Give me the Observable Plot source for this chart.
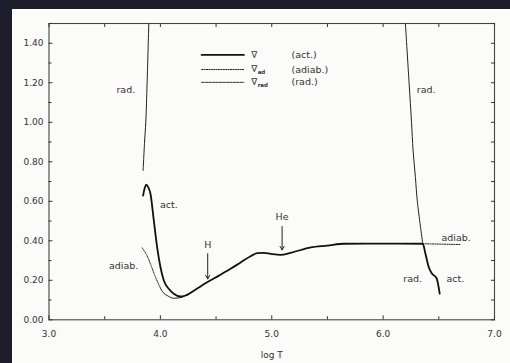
<!DOCTYPE html>
<html><head><meta charset="utf-8">
<script src="https://cdn.jsdelivr.net/npm/d3@7"></script>
<script src="https://cdn.jsdelivr.net/npm/@observablehq/plot@0.6"></script>
<style>
html,body{margin:0;padding:0;background:#1d1d2b;width:510px;height:363px;overflow:hidden}
#paper{position:absolute;left:12px;top:9px;width:498px;height:354px;background:#fbfbf9}
</style></head><body><div id="paper"></div>
<script>
// actual gradient ∇ (act.)
const actX = [3.845,3.86,3.873,3.89,3.911,3.941,3.971,4.001,4.031,4.075,4.12,4.18,4.225,4.32,4.42,4.53,4.63,4.72,4.81,4.87,4.93,4.99,5.08,5.17,5.35,5.50,5.65,6.00,6.356,6.38,6.41,6.44,6.478,6.49,6.508];
const actY = [0.629,0.668,0.684,0.672,0.638,0.503,0.367,0.266,0.199,0.157,0.132,0.118,0.123,0.155,0.19,0.225,0.258,0.29,0.322,0.337,0.339,0.334,0.329,0.339,0.367,0.376,0.385,0.386,0.385,0.334,0.266,0.233,0.213,0.19,0.132];
// radiative gradient ∇rad (rad.)
const radLeftX = [3.845,3.858,3.869,3.881,3.896];
const radLeftY = [0.756,0.90,1.00,1.20,1.50];
const radRightX = [6.200,6.233,6.255,6.269,6.290,6.307,6.356];
const radRightY = [1.50,1.20,1.00,0.857,0.72,0.60,0.385];
// adiabatic gradient ∇ad (adiab.)
const adLeftX = [3.837,3.875,3.911,3.956,4.005];
const adLeftY = [0.364,0.33,0.283,0.216,0.155];
const adLowX = [4.005,4.03,4.061,4.12,4.195,4.23];
const adLowY = [0.155,0.135,0.123,0.109,0.114,0.124];
const adRightX = [6.356,6.69];
const adRightY = [0.385,0.381];
// legend
const legendSymbols = ["∇","∇","∇"];
const legendSubs = ["","ad","rad"];
const legendNames = ["(act.)","(adiab.)","(rad.)"];
const legendRowY = [1.341,1.267,1.202];
const legendLineX = [4.37,4.75];
const legendSymX = 4.815, legendNameX = 5.177;
// annotations
const labels = [
  {x:3.69,y:1.164,t:"rad."},{x:4.076,y:0.58,t:"act."},{x:3.67,y:0.271,t:"adiab."},
  {x:4.425,y:0.38,t:"H"},{x:5.093,y:0.52,t:"He"},
  {x:6.386,y:1.164,t:"rad."},{x:6.655,y:0.415,t:"adiab."},{x:6.266,y:0.205,t:"rad."},{x:6.649,y:0.205,t:"act."}
];
const arrows = [{x:4.425,y1:0.335,y2:0.207},{x:5.093,y1:0.472,y2:0.354}];
const xTicks = [3,4,5,6,7];
const xMinor = [3.5,4.5,5.5,6.5];
const yTicks = [0,0.2,0.4,0.6,0.8,1.0,1.2,1.4];
const yMinor = [0.1,0.3,0.5,0.7,0.9,1.1,1.3,1.5];

const pts = (xs, ys) => xs.map((x,i)=>({x, y:ys[i]}));
const ink = "#333";
const legendRows = legendNames.map((n,i)=>({n, s:legendSymbols[i], sub:legendSubs[i], y:legendRowY[i], i}));
const legendLines = legendRows.flatMap(r => legendLineX.map(x => ({x, y:r.y, i:r.i})));

const plot = Plot.plot({
  width:498, height:354, marginLeft:36.5, marginRight:16, marginTop:14, marginBottom:43.7,
  style:{fontFamily:"DejaVu Sans", fontSize:"9px", color:ink, background:"transparent"},
  x:{domain:[3,7]}, y:{domain:[0,1.5]},
  marks:[
    Plot.frame({stroke:"#444", strokeWidth:1.1}),
    Plot.axisX({anchor:"bottom", ticks:xTicks, tickSize:-4, tickPadding:15, tickFormat:d3.format(".1f"), label:"log T", labelAnchor:"center", labelOffset:38, labelArrow:"none"}),
    Plot.axisX({anchor:"bottom", ticks:xMinor, tickSize:-3, tickFormat:()=>"", label:null}),
    Plot.axisX({anchor:"top", ticks:xTicks.concat(xMinor), tickSize:-3, tickFormat:()=>"", label:null}),
    Plot.axisY({anchor:"left", ticks:yTicks, tickSize:-4, tickPadding:9.5, tickFormat:d3.format(".2f"), label:null}),
    Plot.axisY({anchor:"left", ticks:yMinor, tickSize:-3, tickFormat:()=>"", label:null}),
    Plot.axisY({anchor:"right", ticks:yTicks.concat(yMinor), tickSize:-4, tickFormat:()=>"", label:null}),
    Plot.line(pts(radLeftX, radLeftY), {x:"x", y:"y", stroke:"#222", strokeWidth:1, curve:"catmull-rom"}),
    Plot.line(pts(radRightX, radRightY), {x:"x", y:"y", stroke:"#222", strokeWidth:1, curve:"catmull-rom"}),
    Plot.line(pts(adLeftX, adLeftY), {x:"x", y:"y", stroke:"#222", strokeWidth:1, strokeDasharray:"1.2,1.2", curve:"catmull-rom"}),
    Plot.line(pts(adLowX, adLowY), {x:"x", y:"y", stroke:"#222", strokeWidth:1, curve:"monotone-x"}),
    Plot.line(pts(adRightX, adRightY), {x:"x", y:"y", stroke:"#222", strokeWidth:1, strokeDasharray:"1.2,1.2"}),
    Plot.line(pts(actX, actY), {x:"x", y:"y", stroke:"#111", strokeWidth:1.8, curve:"monotone-x"}),
    Plot.line(legendLines.filter(d=>d.i===0), {x:"x", y:"y", stroke:"#111", strokeWidth:1.8}),
    Plot.line(legendLines.filter(d=>d.i===1), {x:"x", y:"y", stroke:"#222", strokeWidth:1, strokeDasharray:"1.2,1.2"}),
    Plot.line(legendLines.filter(d=>d.i===2), {x:"x", y:"y", stroke:"#222", strokeWidth:0.9, strokeDasharray:"2.5,1"}),
    Plot.text(legendRows, {x:()=>legendSymX, y:"y", text:"s", textAnchor:"start", fill:ink, fontSize:9}),
    Plot.text(legendRows, {x:()=>legendSymX, y:"y", text:"sub", textAnchor:"start", dx:6.5, dy:2.5, fill:ink, fontSize:5.5, fontWeight:"bold"}),
    Plot.text(legendRows, {x:()=>legendNameX, y:"y", text:"n", textAnchor:"start", fill:ink, fontSize:9.5}),
    Plot.text(labels, {x:"x", y:"y", text:"t", fill:ink, fontSize:9.5}),
    Plot.arrow(arrows, {x1:"x", x2:"x", y1:"y1", y2:"y2", stroke:"#222", strokeWidth:1, headLength:6, headAngle:60})
  ]
});
document.getElementById("paper").appendChild(plot);
</script></body></html>
